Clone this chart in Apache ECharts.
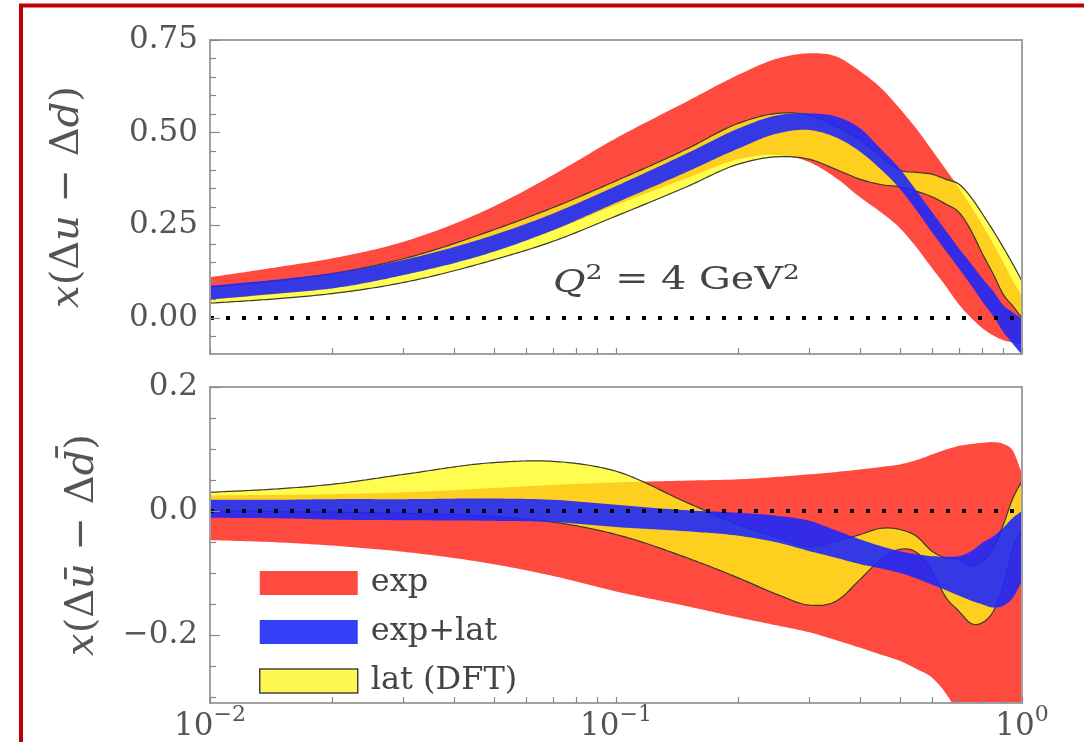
<!DOCTYPE html>
<html>
<head>
<meta charset="utf-8">
<script src="https://cdn.jsdelivr.net/npm/echarts@6/dist/echarts.min.js"></script>
<style>
  html, body { margin: 0; padding: 0; background: #fff; }
  #main { width: 1084px; height: 742px; }
</style>
</head>
<body>
<div id="main"></div>
<script>
// x grid shared by both panels
var xs = [0.01, 0.015, 0.02, 0.03, 0.05, 0.07, 0.1, 0.15, 0.2, 0.25, 0.3, 0.35, 0.4, 0.45, 0.5, 0.55, 0.6, 0.65, 0.7, 0.75, 0.8, 0.85, 0.9, 0.95, 1.0];

// top panel: x(Δu - Δd)
var expTopLo  = [0.050, 0.066, 0.083, 0.118, 0.183, 0.236, 0.305, 0.378, 0.428, 0.440, 0.420, 0.376, 0.325, 0.285, 0.243, 0.190, 0.135, 0.085, 0.036, 0.000, -0.028, -0.047, -0.060, -0.066, -0.070];
var expTopHi  = [0.110, 0.139, 0.161, 0.206, 0.301, 0.386, 0.485, 0.585, 0.656, 0.700, 0.714, 0.705, 0.665, 0.620, 0.565, 0.510, 0.453, 0.400, 0.350, 0.300, 0.250, 0.200, 0.150, 0.100, 0.060];
var latTopLo  = [0.040, 0.053, 0.066, 0.096, 0.157, 0.207, 0.275, 0.355, 0.415, 0.435, 0.428, 0.400, 0.374, 0.360, 0.354, 0.342, 0.327, 0.307, 0.285, 0.235, 0.172, 0.118, 0.063, 0.032, 0.000];
var latTopHi  = [0.083, 0.102, 0.120, 0.160, 0.238, 0.298, 0.370, 0.457, 0.525, 0.552, 0.547, 0.516, 0.480, 0.436, 0.399, 0.393, 0.388, 0.374, 0.361, 0.325, 0.280, 0.235, 0.190, 0.145, 0.100];
var combTopLo = [0.050, 0.067, 0.080, 0.116, 0.179, 0.237, 0.311, 0.395, 0.457, 0.498, 0.507, 0.486, 0.448, 0.400, 0.349, 0.290, 0.232, 0.180, 0.133, 0.088, 0.043, 0.005, -0.038, -0.070, -0.100];
var combTopHi = [0.087, 0.105, 0.121, 0.157, 0.224, 0.282, 0.356, 0.445, 0.511, 0.547, 0.552, 0.543, 0.511, 0.455, 0.403, 0.343, 0.286, 0.235, 0.187, 0.146, 0.106, 0.072, 0.034, 0.015, -0.003];

// bottom panel: x(Δū - Δd̄)
var expBotLo  = [-0.047, -0.051, -0.056, -0.066, -0.086, -0.105, -0.130, -0.154, -0.172, -0.185, -0.196, -0.209, -0.221, -0.232, -0.242, -0.255, -0.269, -0.295, -0.330, -0.370, -0.400, -0.430, -0.450, -0.460, -0.460];
var expBotHi  = [0.025, 0.026, 0.027, 0.030, 0.037, 0.042, 0.046, 0.049, 0.051, 0.055, 0.059, 0.063, 0.067, 0.071, 0.075, 0.082, 0.091, 0.099, 0.105, 0.108, 0.110, 0.111, 0.108, 0.097, 0.060];
var latBotLo  = [0.000, -0.001, -0.002, -0.004, -0.009, -0.018, -0.038, -0.076, -0.108, -0.135, -0.152, -0.145, -0.110, -0.078, -0.062, -0.067, -0.097, -0.140, -0.162, -0.182, -0.180, -0.162, -0.120, -0.060, -0.030];
var latBotHi  = [0.030, 0.036, 0.043, 0.059, 0.078, 0.080, 0.064, 0.013, -0.022, -0.043, -0.058, -0.049, -0.038, -0.028, -0.030, -0.041, -0.065, -0.076, -0.078, -0.089, -0.081, -0.060, -0.022, 0.021, 0.048];
var combBotLo = [-0.011, -0.012, -0.014, -0.015, -0.016, -0.018, -0.026, -0.033, -0.040, -0.051, -0.065, -0.076, -0.086, -0.093, -0.100, -0.109, -0.119, -0.128, -0.137, -0.145, -0.151, -0.156, -0.153, -0.140, -0.113];
var combBotHi = [0.018, 0.018, 0.019, 0.019, 0.020, 0.018, 0.010, 0.001, -0.003, -0.008, -0.016, -0.032, -0.046, -0.057, -0.065, -0.070, -0.073, -0.074, -0.073, -0.065, -0.051, -0.041, -0.027, -0.011, 0.000];

// ticks
var yTopLabels = [0, 0.25, 0.5, 0.75];
var yTopMinor  = [-0.05, 0.05, 0.1, 0.15, 0.2, 0.3, 0.35, 0.4, 0.45, 0.55, 0.6, 0.65, 0.7];
var yBotLabels = [-0.2, 0, 0.2];
var yBotMinor  = [-0.3, -0.25, -0.15, -0.1, -0.05, 0.05, 0.1, 0.15];
var xMinorTicks = [0.02, 0.03, 0.04, 0.05, 0.06, 0.07, 0.08, 0.09, 0.2, 0.3, 0.4, 0.5, 0.6, 0.7, 0.8, 0.9];

var RED = '#ff4a40';
var BLUE = 'rgba(30,40,250,0.9)';
var YELLOW = 'rgba(255,252,20,0.75)';
var FRAME = '#a0a0a0';
var SERIF = 'DejaVu Serif';

var chart = echarts.init(document.getElementById('main'));

// smooth curve through pixel points (cubic hermite, x increasing)
function smoothPts(p) {
  var n = p.length, m = [], out = [];
  for (var i = 0; i < n; i++) {
    if (i === 0) m.push((p[1][1] - p[0][1]) / (p[1][0] - p[0][0]));
    else if (i === n - 1) m.push((p[i][1] - p[i - 1][1]) / (p[i][0] - p[i - 1][0]));
    else {
      var h0 = p[i][0] - p[i - 1][0], h1 = p[i + 1][0] - p[i][0];
      var s0 = (p[i][1] - p[i - 1][1]) / h0, s1 = (p[i + 1][1] - p[i][1]) / h1;
      m.push((s0 * h1 + s1 * h0) / (h0 + h1));
    }
  }
  for (var j = 0; j < n - 1; j++) {
    var h = p[j + 1][0] - p[j][0];
    var steps = Math.max(2, Math.ceil(h / 3));
    for (var k = 0; k < steps; k++) {
      var t = k / steps, t2 = t * t, t3 = t2 * t;
      var y = (2 * t3 - 3 * t2 + 1) * p[j][1] + (t3 - 2 * t2 + t) * h * m[j]
            + (-2 * t3 + 3 * t2) * p[j + 1][1] + (t3 - t2) * h * m[j + 1];
      out.push([p[j][0] + t * h, y]);
    }
  }
  out.push(p[n - 1]);
  return out;
}

function band(name, lo, hi, color, g, edge) {
  return {
    type: 'custom', name: name, xAxisIndex: g * 2, yAxisIndex: g * 3,
    clip: true, silent: true,
    itemStyle: {color: color},
    encode: {x: 0, y: [1, 2]},
    data: xs.map(function (x, i) { return [x, lo[i], hi[i]]; }),
    renderItem: function (params, api) {
      if (params.dataIndex !== 0) return null;
      var cs = params.coordSys;
      var clampY = function (q) {
        return [q[0], Math.max(cs.y - 2, Math.min(cs.y + cs.height + 2, q[1]))];
      };
      var up = smoothPts(xs.map(function (x, i) { return api.coord([x, hi[i]]); })).map(clampY);
      var dn = smoothPts(xs.map(function (x, i) { return api.coord([x, lo[i]]); })).map(clampY);
      var children = [{
        type: 'polygon',
        shape: {points: up.concat(dn.slice().reverse())},
        style: {fill: color}
      }];
      if (edge) {
        children.push({type: 'polyline', shape: {points: up}, style: {fill: 'none', stroke: '#3a3a2a', lineWidth: 1.2}});
        children.push({type: 'polyline', shape: {points: dn}, style: {fill: 'none', stroke: '#3a3a2a', lineWidth: 1.2}});
      }
      return {type: 'group', children: children};
    }
  };
}

function zeroLine(g) {
  return {
    type: 'line', name: 'zero', xAxisIndex: g * 2, yAxisIndex: g * 3,
    data: [[0.01, 0], [1, 0]], symbol: 'none', silent: true, z: 5,
    lineStyle: {color: '#000', width: 4, type: [4, 12]}
  };
}

function xAxes(g, showLabels) {
  return [{
    type: 'log', gridIndex: g, min: 0.01, max: 1, position: 'bottom', z: 10,
    axisLine: {show: true, onZero: false, lineStyle: {color: FRAME, width: 2}},
    axisTick: {show: true, inside: true, length: 6, customValues: xMinorTicks.concat([0.01, 0.1, 1]),
      lineStyle: {color: '#888', width: 1.2}},
    axisLabel: {
      show: showLabels, margin: 1, showMinLabel: true, showMaxLabel: true,
      formatter: function (v) {
        var e = Math.round(Math.log10(v));
        return '{b|10}{s|' + (e < 0 ? '\u2212' + (-e) : e) + '}';
      },
      rich: {
        b: {fontFamily: SERIF, fontSize: 31, color: '#555', lineHeight: 38, verticalAlign: 'bottom'},
        s: {fontFamily: SERIF, fontSize: 22, color: '#555', lineHeight: 18, verticalAlign: 'top'}
      }
    },
    splitLine: {show: false}, minorTick: {show: false}
  }, {
    type: 'log', gridIndex: g, min: 0.01, max: 1, position: 'top', z: 10,
    axisLine: {show: true, onZero: false, lineStyle: {color: FRAME, width: 2}},
    axisTick: {show: false}, axisLabel: {show: false}, splitLine: {show: false}
  }];
}

function yAxes(g, min, max, labels, minor, digits, name, gap) {
  return [{
    type: 'value', gridIndex: g, min: min, max: max, position: 'left', z: 10,
    axisLine: {show: true, onZero: false, lineStyle: {color: FRAME, width: 2}},
    axisTick: {show: true, inside: true, length: 10, customValues: labels, lineStyle: {color: '#888', width: 1.2}},
    axisLabel: {
      show: true, customValues: labels, margin: 12,
      fontFamily: SERIF, fontSize: 31, color: '#555',
      formatter: function (v) {
        var s = Math.abs(v).toFixed(digits);
        return v < 0 ? '\u2212' + s : s;
      }
    },
    splitLine: {show: false},
    name: name, nameLocation: 'middle', nameGap: gap, nameRotate: 90,
    nameTextStyle: {
      fontFamily: SERIF, fontSize: 40, color: '#555',
      rich: {i: {fontFamily: SERIF, fontSize: 40, fontStyle: 'italic', color: '#555'}}
    }
  }, {
    type: 'value', gridIndex: g, min: min, max: max, position: 'left', z: 10,
    axisLine: {show: false},
    axisTick: {show: true, inside: true, length: 6, customValues: minor, lineStyle: {color: '#888', width: 1.2}},
    axisLabel: {show: false}, splitLine: {show: false}
  }, {
    type: 'value', gridIndex: g, min: min, max: max, position: 'right', z: 10,
    axisLine: {show: true, onZero: false, lineStyle: {color: FRAME, width: 2}},
    axisTick: {show: false}, axisLabel: {show: false}, splitLine: {show: false}
  }];
}

var series = [
  band('exp', expTopLo, expTopHi, RED, 0, false),
  band('lat (DFT)', latTopLo, latTopHi, YELLOW, 0, true),
  band('exp+lat', combTopLo, combTopHi, BLUE, 0, false),
  zeroLine(0),
  band('exp', expBotLo, expBotHi, RED, 1, false),
  band('lat (DFT)', latBotLo, latBotHi, YELLOW, 1, true),
  band('exp+lat', combBotLo, combBotHi, BLUE, 1, false),
  zeroLine(1)
];

var option = {
  animation: false,
  backgroundColor: '#fff',
  grid: [
    {left: 210, right: 62, top: 40, height: 314},
    {left: 210, right: 62, top: 387, height: 316}
  ],
  xAxis: [].concat(xAxes(0, false), xAxes(1, true)),
  yAxis: [].concat(
    yAxes(0, -0.097, 0.75, yTopLabels, yTopMinor, 2, '{i|x}(\u0394{i|u} \u2212 \u0394{i|d})', 122),
    yAxes(1, -0.31, 0.2, yBotLabels, yBotMinor, 1, '{i|x}(\u0394{i|\u016b} \u2212 \u0394{i|d\u0304})', 107)
  ),
  legend: {
    data: [
      {name: 'exp', itemStyle: {color: '#ff4a40'}},
      {name: 'exp+lat', itemStyle: {color: '#3440f8'}},
      {name: 'lat (DFT)', itemStyle: {color: '#fff850', borderColor: '#444', borderWidth: 1.5}}
    ],
    orient: 'vertical', left: 254, top: 562,
    icon: 'rect', itemWidth: 98, itemHeight: 24, itemGap: 17,
    selectedMode: false,
    textStyle: {fontFamily: SERIF, fontSize: 32, color: '#444', padding: [0, 0, 0, 8]}
  },
  graphic: [
    {
      type: 'rect', silent: true, z: 100,
      shape: {x: 21, y: 5.5, width: 1100, height: 800},
      style: {fill: 'none', stroke: '#c00000', lineWidth: 4}
    },
    {
      type: 'text', silent: true, z: 50, x: 553, y: 263, scaleX: 1.28,
      style: {
        text: '{q|Q}{s|2} = 4 GeV{s|2}',
        fontFamily: SERIF, fontSize: 31, fill: '#444',
        rich: {
          q: {fontFamily: SERIF, fontSize: 31, fontStyle: 'italic', color: '#444', lineHeight: 36, verticalAlign: 'bottom'},
          s: {fontFamily: SERIF, fontSize: 21, color: '#444', lineHeight: 20, verticalAlign: 'top'}
        }
      }
    }
  ],
  series: series
};

chart.setOption(option);
</script>
</body>
</html>
